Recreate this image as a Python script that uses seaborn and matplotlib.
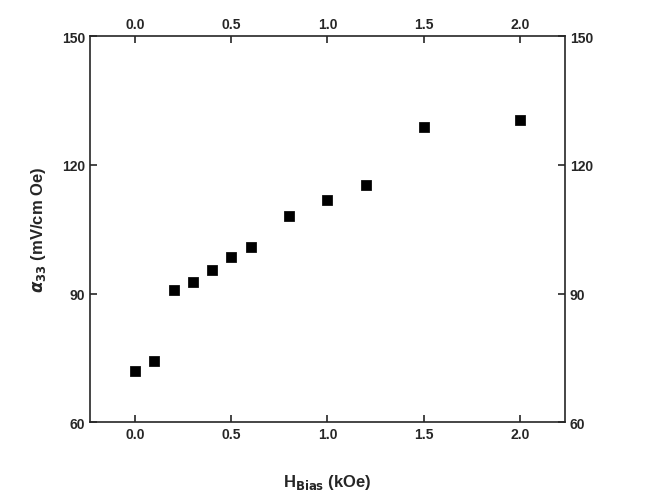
import matplotlib
matplotlib.use('Agg')
import matplotlib.pyplot as plt
import seaborn as sns
import pandas as pd

h_bias = [0.0, 0.1, 0.2, 0.3, 0.4, 0.5, 0.6, 0.8, 1.0, 1.2, 1.5, 2.0]
alpha33 = [72.0, 74.3, 90.9, 92.7, 95.5, 98.6, 100.9, 108.1, 111.7, 115.2, 128.8, 130.4]
df = pd.DataFrame({'h': h_bias, 'a': alpha33})

sns.set_style('ticks')
plt.rcParams['font.family'] = ['Liberation Sans', 'DejaVu Sans']
plt.rcParams['font.weight'] = 'bold'

fig = plt.figure(figsize=(6.53, 5.02), dpi=100)
ax = fig.add_axes([0.138, 0.157, 0.727, 0.769])
sns.scatterplot(data=df, x='h', y='a', marker='s', color='black', s=45, edgecolor='black', ax=ax)

ax.set_xlim(-0.234, 2.234)
ax.set_ylim(60, 150)
ax.set_xticks([0.0, 0.5, 1.0, 1.5, 2.0])
ax.set_yticks([60, 90, 120, 150])
ax.tick_params(direction='in', top=True, right=True, labeltop=True, labelright=True,
               labelbottom=True, labelleft=True, labelsize=10, width=1.2, length=5)
for lab in ax.get_xticklabels() + ax.get_yticklabels():
    lab.set_fontweight('bold')
for s in ax.spines.values():
    s.set_linewidth(1.2)
    s.set_visible(True)
ax.set_xlabel(r'H$_{\mathbf{Bias}}$ (kOe)', fontsize=12, fontweight='bold', labelpad=22)
ax.set_ylabel(r'$\alpha_{\mathbf{33}}$ (mV/cm Oe)', fontsize=12, fontweight='bold', labelpad=10)
fig.savefig('out.png', dpi=100)
